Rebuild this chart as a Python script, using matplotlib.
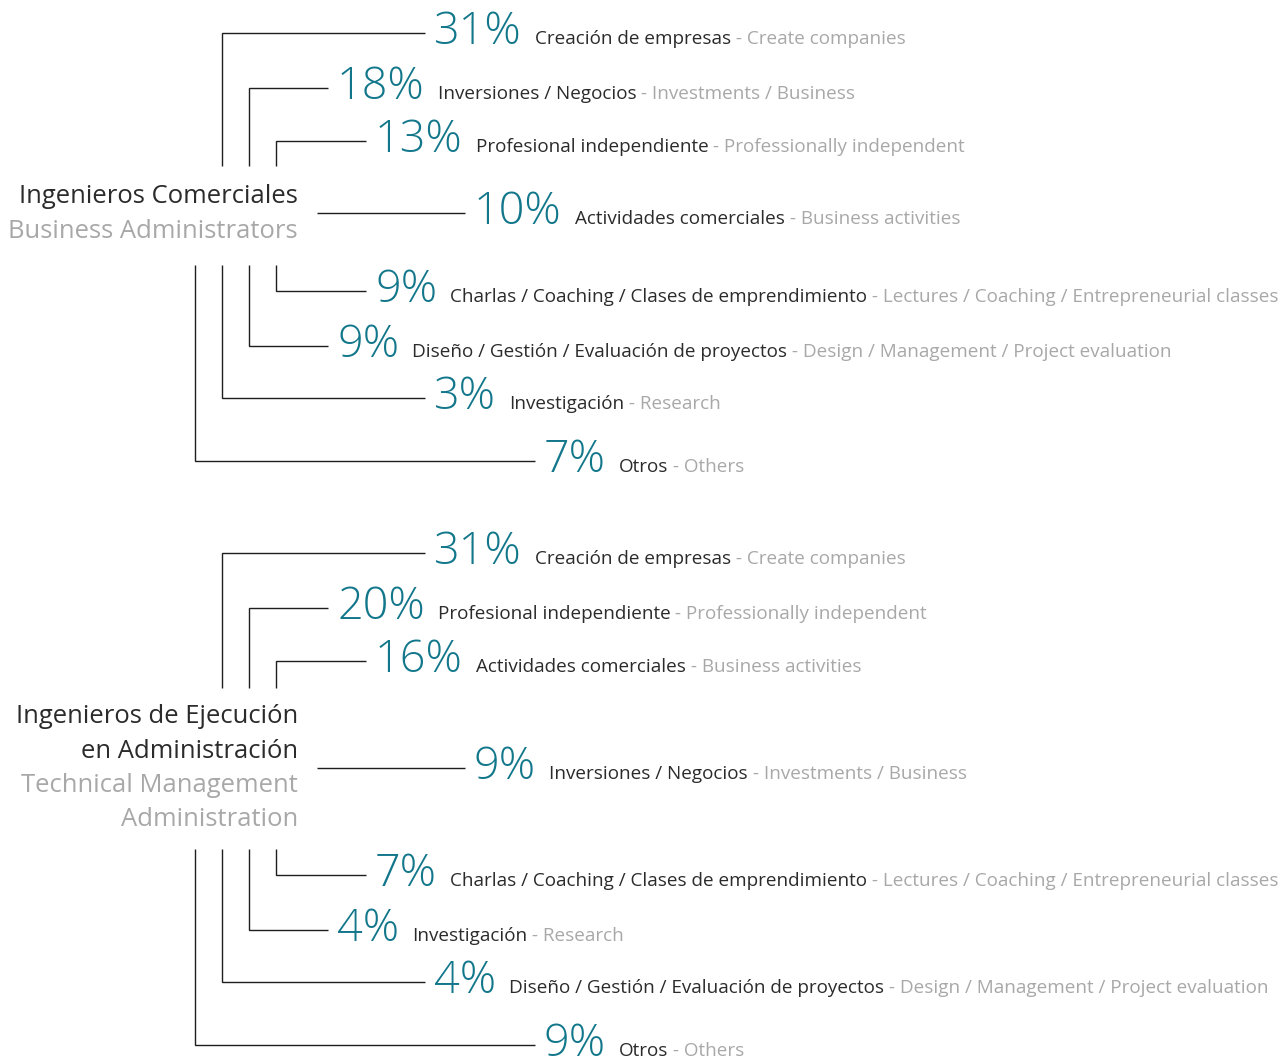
import matplotlib
matplotlib.use("Agg")
import matplotlib.pyplot as plt
from matplotlib import font_manager

# Data
group1_title_es = ["Ingenieros Comerciales"]
group1_title_en = ["Business Administrators"]
group1_pcts = [31, 18, 13, 10, 9, 9, 3, 7]
group1_es = ["Creación de empresas", "Inversiones / Negocios", "Profesional independiente",
             "Actividades comerciales", "Charlas / Coaching / Clases de emprendimiento",
             "Diseño / Gestión / Evaluación de proyectos", "Investigación", "Otros"]
group1_en = ["Create companies", "Investments / Business", "Professionally independent",
             "Business activities", "Lectures / Coaching / Entrepreneurial classes",
             "Design / Management / Project evaluation", "Research", "Others"]

group2_title_es = ["Ingenieros de Ejecución", "en Administración"]
group2_title_en = ["Technical Management", "Administration"]
group2_pcts = [31, 20, 16, 9, 7, 4, 4, 9]
group2_es = ["Creación de empresas", "Profesional independiente", "Actividades comerciales",
             "Inversiones / Negocios", "Charlas / Coaching / Clases de emprendimiento",
             "Investigación", "Diseño / Gestión / Evaluación de proyectos", "Otros"]
group2_en = ["Create companies", "Professionally independent", "Business activities",
             "Investments / Business", "Lectures / Coaching / Entrepreneurial classes",
             "Research", "Design / Management / Project evaluation", "Others"]

TEAL = "#13778b"
DARK = "#2b2b2b"
GREY = "#a8a8a8"
LINE = "#1e1e1e"

names = {f.name for f in font_manager.fontManager.ttflist}
FONT = "Open Sans" if "Open Sans" in names else "DejaVu Sans"
plt.rcParams["font.family"] = [FONT, "DejaVu Sans"]

W, H = 1285, 1061
fig = plt.figure(figsize=(W / 100, H / 100), dpi=100)
ax = fig.add_axes([0, 0, 1, 1])
ax.set_xlim(0, W)
ax.set_ylim(H, 0)
ax.axis("off")
fig.canvas.draw()
renderer = fig.canvas.get_renderer()

PX = 0.72  # pixels -> points at dpi 100
PCT_SIZE = 45 * PX
LABEL_SIZE = 18.9 * PX
TITLE_SIZE = 25.6 * PX

# per slot: x of the vertical stem (None for the middle one), x where the line ends
stem_x = [222, 249, 276, None, 276, 249, 222, 195]
line_end = [425, 328, 366, 465, 366, 328, 425, 535]
mid_start = 317


def text_width(t):
    return t.get_window_extent(renderer=renderer).width


def draw_group(pcts, es, en, title_es, title_en, slot_y, stem_top, stem_bottom, title_base):
    for i, (p, a, b) in enumerate(zip(pcts, es, en)):
        y = slot_y[i]
        sx = stem_x[i]
        if sx is None:
            ax.plot([mid_start, line_end[i]], [y, y], color=LINE, lw=1.0, solid_capstyle="butt")
        else:
            yy = stem_top if i < 3 else stem_bottom
            ax.plot([sx, sx, line_end[i]], [yy, y, y], color=LINE, lw=1.0,
                    solid_capstyle="butt", solid_joinstyle="miter")
        base = y + 11
        x = line_end[i] + 9
        t = ax.text(x, base, f"{p}%", color=TEAL, fontsize=PCT_SIZE, fontweight="light",
                    ha="left", va="baseline")
        x += text_width(t) + 13
        t = ax.text(x, base, a, color=DARK, fontsize=LABEL_SIZE, ha="left", va="baseline")
        x += text_width(t)
        ax.text(x, base, " - " + b, color=GREY, fontsize=LABEL_SIZE, ha="left", va="baseline")

    yb = title_base
    for line in title_es:
        ax.text(298, yb, line, color=DARK, fontsize=TITLE_SIZE, ha="right", va="baseline")
        yb += 34.5
    for line in title_en:
        ax.text(298, yb, line, color=GREY, fontsize=TITLE_SIZE, ha="right", va="baseline")
        yb += 34.5


draw_group(group1_pcts, group1_es, group1_en, group1_title_es, group1_title_en,
           [33, 88, 141, 213, 291, 346, 398, 461], 166, 265, 203)
draw_group(group2_pcts, group2_es, group2_en, group2_title_es, group2_title_en,
           [553, 608, 661, 768, 875, 930, 982, 1045], 688, 849, 723)

fig.savefig("out.png", dpi=100, facecolor="white")
